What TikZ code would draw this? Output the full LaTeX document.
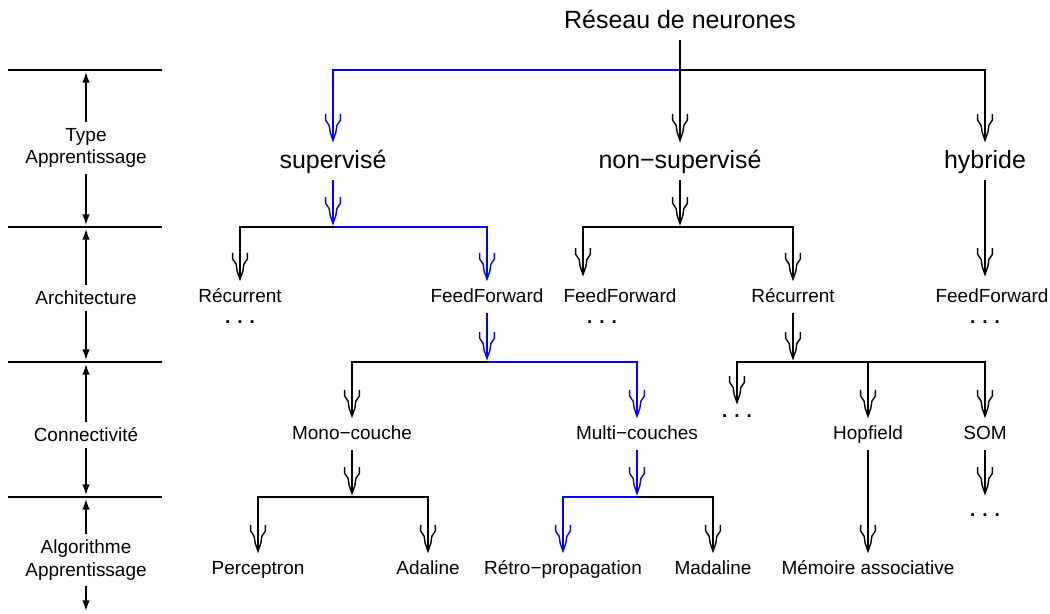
\documentclass[tikz,border=0pt]{standalone}
\usepackage{fontspec}
\setmainfont{Liberation Sans}
\usetikzlibrary{arrows.meta}

% barbed arrow head with a kink, as in the drawing
\pgfdeclarearrow{
  name=Kink,
  setup code={
    \pgfarrowssettipend{0pt}
    \pgfarrowssetlineend{-1pt}
    \pgfarrowssetvisualbackend{-15pt}
    \pgfarrowssetbackend{-15pt}
    \pgfarrowshullpoint{-15pt}{4.2pt}
    \pgfarrowshullpoint{-15pt}{-4.2pt}
    \pgfarrowshullpoint{0pt}{0pt}
  },
  drawing code={
    \pgfsetdash{}{0pt}
    \pgfsetmiterjoin
    \pgfpathmoveto{\pgfqpoint{-15pt}{4.2pt}}
    \pgfpathlineto{\pgfqpoint{-11.5pt}{4.2pt}}
    \pgfpathlineto{\pgfqpoint{-8.5pt}{2.2pt}}
    \pgfpathlineto{\pgfqpoint{-4.5pt}{1.6pt}}
    \pgfpathlineto{\pgfqpoint{0pt}{0pt}}
    \pgfpathlineto{\pgfqpoint{-4.5pt}{-1.6pt}}
    \pgfpathlineto{\pgfqpoint{-8.5pt}{-2.2pt}}
    \pgfpathlineto{\pgfqpoint{-11.5pt}{-4.2pt}}
    \pgfpathlineto{\pgfqpoint{-15pt}{-4.2pt}}
    \pgfusepathqstroke
  }
}

\begin{document}
\begin{tikzpicture}[x=0.02cm,y=-0.02cm,
    every node/.style={font=\fontsize{10.8}{13}\selectfont},
    lab/.style={text height=8pt,text depth=2.4pt},
    big/.style={font=\fontsize{14.2}{16}\selectfont,text height=10.5pt,text depth=3.1pt},
    link/.style={line width=0.8pt},
    arr/.style={link,-Kink,shorten >=2pt},
    larr/.style={link,-{Latex[length=6pt,width=4.2pt]}},
    dots/.style={font=\fontsize{10.8}{13}\bfseries}]
    \useasboundingbox (0,0) rectangle (1050,613);

    % levels on the left
    \foreach \y in {70,227,362,497}
        \draw[link] (8,\y) -- (162,\y);
    \coordinate (l1) at (86,72);
    \coordinate (l2) at (86,225);
    \coordinate (l3) at (86,229);
    \coordinate (l4) at (86,360);
    \coordinate (l5) at (86,364);
    \coordinate (l6) at (86,495);
    \coordinate (l7) at (86,499);
    \coordinate (l8) at (86,611);
    \node[align=center] (typ) at (86,148) {Type\\Apprentissage};
    \node (arch) at (86,298) {Architecture};
    \node (conn) at (86,435) {Connectivité};
    \node[align=center] (alg) at (86,560) {Algorithme\\Apprentissage};
    \draw[larr] (typ.north) -- (l1);
    \draw[larr] (typ.south) -- (l2);
    \draw[larr] (arch.north) -- (l3);
    \draw[larr] (arch.south) -- (l4);
    \draw[larr] (conn.north) -- (l5);
    \draw[larr] (conn.south) -- (l6);
    \draw[larr] (alg.north) -- (l7);
    \draw[larr] (alg.south) -- (l8);

    % the tree
    \node[big] (res) at (680,22) {Réseau de neurones};
    \node[big] (sup) at (333,162) {supervisé};
    \node[big] (nsup) at (680,162) {non−supervisé};
    \node[big] (hyb) at (985,162) {hybride};

    \node[lab] (rec1) at (240,298) {Récurrent};
    \node[lab] (ff1) at (487,298) {FeedForward};
    \node[lab] (ff2) at (620,298) {FeedForward};
    \node[lab] (rec2) at (793,298) {Récurrent};
    \node[lab] (ff3) at (992,298) {FeedForward};
    \node[dots] (d1) at (240,322) {. . .};
    \node[dots] (d2) at (602,322) {. . .};
    \node[dots] (d3) at (985,322) {. . .};

    \node[lab] (mono) at (352,435) {Mono−couche};
    \node[lab] (multi) at (637,435) {Multi−couches};
    \node[dots] (d4) at (737,416) {. . .};
    \node[lab] (hop) at (868,435) {Hopfield};
    \node[lab] (som) at (985,435) {SOM};
    \node[dots] (d5) at (985,515) {. . .};

    \node[lab] (perc) at (258,570) {Perceptron};
    \node[lab] (adal) at (428,570) {Adaline};
    \node[lab] (retro) at (563,570) {Rétro−propagation};
    \node[lab] (mada) at (713,570) {Madaline};
    \node[lab] (memo) at (868,570) {Mémoire associative};

    \coordinate (j0) at (680,70);
    \coordinate (jA) at (333,227);
    \coordinate (jB) at (680,227);
    \coordinate (jC) at (487,362);
    \coordinate (jD) at (793,362);
    \coordinate (jE) at (352,497);
    \coordinate (jF) at (637,497);
    \coordinate (ff2in) at (583,278);
    \coordinate (ff3in) at (985,278);
    \coordinate (d4in) at (737,406);
    \coordinate (d5in) at (985,497);

    \draw[arr] (res.south) -- (nsup.north);
    \draw[arr,blue] (j0) -| (sup.north);
    \draw[arr] (j0) -| (hyb.north);

    \draw[arr,blue] (sup.south) -- (jA);
    \draw[arr] (jA) -| (rec1.north);
    \draw[arr,blue] (jA) -| (ff1.north);
    \draw[arr] (nsup.south) -- (jB);
    \draw[arr] (jB) -| (ff2in);
    \draw[arr] (jB) -| (rec2.north);
    \draw[arr] (hyb.south) -- (ff3in);

    \draw[arr,blue] (ff1.south) -- (jC);
    \draw[arr] (jC) -| (mono.north);
    \draw[arr,blue] (jC) -| (multi.north);
    \draw[arr] (rec2.south) -- (jD);
    \draw[arr] (jD) -| (d4in);
    \draw[arr] (jD) -| (hop.north);
    \draw[arr] (jD) -| (som.north);

    \draw[arr] (mono.south) -- (jE);
    \draw[arr] (jE) -| (perc.north);
    \draw[arr] (jE) -| (adal.north);
    \draw[arr,blue] (multi.south) -- (jF);
    \draw[arr,blue] (jF) -| (retro.north);
    \draw[arr] (jF) -| (mada.north);
    \draw[arr] (hop.south) -- (memo.north);
    \draw[arr] (som.south) -- (d5in);
\end{tikzpicture}
\end{document}
